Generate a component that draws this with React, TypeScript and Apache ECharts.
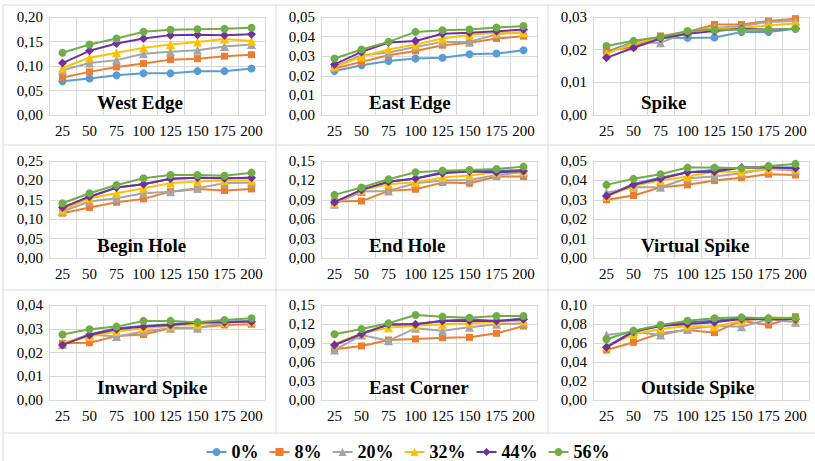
import React, { useEffect, useRef } from "react";
import * as echarts from "echarts";

const categories = ["25", "50", "75", "100", "125", "150", "175", "200"];
const seriesNames = ["0%", "8%", "20%", "32%", "44%", "56%"];
const panelTitles = [
  "West Edge", "East Edge", "Spike",
  "Begin Hole", "End Hole", "Virtual Spike",
  "Inward Spike", "East Corner", "Outside Spike",
];
const yMax = [0.2, 0.05, 0.03, 0.25, 0.15, 0.05, 0.04, 0.15, 0.1];
const yInterval = [0.05, 0.01, 0.01, 0.05, 0.03, 0.01, 0.01, 0.03, 0.02];

// each panel: [0%, 8%, 20%, 32%, 44%, 56%]
const westEdge = [
  [0.069, 0.0746, 0.081, 0.085, 0.085, 0.0895, 0.0895, 0.095],
  [0.0766, 0.088, 0.098, 0.105, 0.113, 0.115, 0.12, 0.123],
  [0.0915, 0.106, 0.112, 0.125, 0.129, 0.132, 0.14, 0.144],
  [0.096, 0.117, 0.127, 0.137, 0.144, 0.149, 0.155, 0.151],
  [0.106, 0.131, 0.146, 0.156, 0.163, 0.164, 0.163, 0.165],
  [0.127, 0.144, 0.156, 0.17, 0.174, 0.175, 0.176, 0.178],
];
const eastEdge = [
  [0.0224, 0.0254, 0.0275, 0.0288, 0.0292, 0.031, 0.0314, 0.033],
  [0.0237, 0.0271, 0.0305, 0.0327, 0.0356, 0.0368, 0.039, 0.0402],
  [0.0246, 0.0305, 0.0319, 0.0347, 0.0373, 0.0373, 0.0412, 0.0424],
  [0.0246, 0.0297, 0.0334, 0.0359, 0.039, 0.041, 0.0419, 0.042],
  [0.0258, 0.0322, 0.037, 0.0378, 0.0415, 0.042, 0.0427, 0.0436],
  [0.0288, 0.0334, 0.0373, 0.0424, 0.0432, 0.0436, 0.0446, 0.0454],
];
const spike = [
  [0.0193, 0.0224, 0.0237, 0.0236, 0.0237, 0.0254, 0.0254, 0.0264],
  [0.0196, 0.0208, 0.0242, 0.0254, 0.0277, 0.0277, 0.0288, 0.0295],
  [0.0188, 0.0221, 0.0221, 0.0254, 0.0267, 0.0272, 0.0285, 0.0288],
  [0.0188, 0.0219, 0.0239, 0.0254, 0.0264, 0.0266, 0.0275, 0.028],
  [0.0175, 0.0206, 0.0234, 0.0249, 0.0257, 0.0264, 0.0261, 0.0264],
  [0.0211, 0.0227, 0.0239, 0.0257, 0.0261, 0.0261, 0.0261, 0.0264],
];
const beginHole = [
  [0.13, 0.158, 0.1815, 0.19, 0.204, 0.207, 0.2055, 0.207],
  [0.1156, 0.13, 0.1438, 0.1524, 0.171, 0.178, 0.174, 0.178],
  [0.12, 0.1455, 0.154, 0.167, 0.171, 0.18, 0.193, 0.194],
  [0.124, 0.154, 0.167, 0.18, 0.193, 0.197, 0.1995, 0.1995],
  [0.13, 0.158, 0.1815, 0.19, 0.204, 0.207, 0.2055, 0.207],
  [0.141, 0.167, 0.188, 0.2055, 0.214, 0.214, 0.212, 0.22],
];
const endHole = [
  [0.0863, 0.1053, 0.118, 0.123, 0.1325, 0.1346, 0.1346, 0.136],
  [0.0873, 0.088, 0.1038, 0.1063, 0.1166, 0.1156, 0.1259, 0.1259],
  [0.0832, 0.1027, 0.1038, 0.1156, 0.1197, 0.1207, 0.1284, 0.1325],
  [0.0848, 0.1053, 0.114, 0.117, 0.1243, 0.1274, 0.1325, 0.1336],
  [0.0863, 0.1053, 0.118, 0.123, 0.131, 0.1336, 0.1325, 0.1346],
  [0.0976, 0.1089, 0.1217, 0.1325, 0.1351, 0.136, 0.1377, 0.1413],
];
const virtualSpike = [
  [0.032, 0.0382, 0.0414, 0.0442, 0.0454, 0.0467, 0.0467, 0.0467],
  [0.03, 0.0322, 0.0365, 0.0377, 0.0399, 0.0414, 0.0432, 0.0428],
  [0.0337, 0.0365, 0.0365, 0.0411, 0.042, 0.0437, 0.0459, 0.045],
  [0.0317, 0.0372, 0.0399, 0.042, 0.0445, 0.0445, 0.0459, 0.0459],
  [0.032, 0.0377, 0.0408, 0.0442, 0.0445, 0.0466, 0.0466, 0.0462],
  [0.0377, 0.0408, 0.0432, 0.0466, 0.0466, 0.0462, 0.0474, 0.0485],
];
const inwardSpike = [
  [0.0234, 0.0276, 0.0302, 0.0312, 0.0319, 0.0327, 0.033, 0.0333],
  [0.0239, 0.0241, 0.0269, 0.0276, 0.0302, 0.0305, 0.0316, 0.0319],
  [0.0234, 0.0276, 0.0267, 0.0288, 0.0302, 0.0302, 0.0326, 0.033],
  [0.0241, 0.0267, 0.0288, 0.0302, 0.0312, 0.0319, 0.0326, 0.033],
  [0.0232, 0.0274, 0.0298, 0.0309, 0.0316, 0.0326, 0.0327, 0.033],
  [0.0276, 0.0298, 0.0309, 0.0333, 0.0333, 0.0327, 0.0337, 0.0344],
];
const eastCorner = [
  [0.0868, 0.1053, 0.1184, 0.1195, 0.1253, 0.1274, 0.1247, 0.1289],
  [0.08, 0.0853, 0.0947, 0.0963, 0.0984, 0.0989, 0.1053, 0.1168],
  [0.0789, 0.1026, 0.0937, 0.1132, 0.1095, 0.1147, 0.1195, 0.1211],
  [0.0884, 0.1053, 0.1142, 0.1174, 0.1195, 0.1211, 0.1237, 0.1253],
  [0.0868, 0.1042, 0.1195, 0.1195, 0.1247, 0.1253, 0.1247, 0.1274],
  [0.1037, 0.1121, 0.1211, 0.1342, 0.1316, 0.13, 0.1326, 0.1326],
];
const outsideSpike = [
  [0.0561, 0.0726, 0.0782, 0.0818, 0.0835, 0.086, 0.086, 0.086],
  [0.0526, 0.0607, 0.0702, 0.0737, 0.0709, 0.0835, 0.0789, 0.0877],
  [0.0684, 0.0719, 0.0684, 0.0744, 0.0779, 0.0772, 0.0849, 0.0818],
  [0.0561, 0.0691, 0.0747, 0.0779, 0.0772, 0.0835, 0.087, 0.086],
  [0.0554, 0.0719, 0.0779, 0.08, 0.0818, 0.0853, 0.0849, 0.0849],
  [0.0639, 0.073, 0.0789, 0.0835, 0.086, 0.087, 0.086, 0.0867],
];
const panels = [westEdge, eastEdge, spike, beginHole, endHole, virtualSpike, inwardSpike, eastCorner, outsideSpike];

const colors = ["#5B9BD5", "#ED7D31", "#A5A5A5", "#FFC000", "#7030A0", "#70AD47"];
const symbols = ["circle", "rect", "triangle", "triangle", "diamond", "circle"];
const symbolSizes = [8, 7, 9, 9, 9, 8];

const colLeft = [49, 321, 593];
const colWidth = [216, 216, 216];
const rowTop = [17, 161, 305];
const rowHeight = [98, 97, 95];
const SERIF = "Liberation Serif";

export default function App() {
  const ref = useRef<HTMLDivElement>(null);
  useEffect(() => {
    if (!ref.current) return;
    const chart = echarts.init(ref.current, undefined, { renderer: "svg" });
    const grids: any[] = [];
    const xAxes: any[] = [];
    const yAxes: any[] = [];
    const series: any[] = [];
    const graphics: any[] = [];
    panels.forEach((panel, i) => {
      const r = Math.floor(i / 3);
      const c = i % 3;
      grids.push({ left: colLeft[c], top: rowTop[r], width: colWidth[c], height: rowHeight[r], containLabel: false });
      xAxes.push({
        type: "category", gridIndex: i, data: categories, boundaryGap: true,
        axisLine: { lineStyle: { color: "#D9D9D9", width: 1 } },
        axisTick: { show: false },
        splitLine: { show: true, lineStyle: { color: "#D9D9D9", width: 1 } },
        axisLabel: { color: "#000", fontFamily: SERIF, fontSize: 15, margin: 8, interval: 0 },
      });
      yAxes.push({
        type: "value", gridIndex: i, min: 0, max: yMax[i], interval: yInterval[i],
        axisLine: { show: false }, axisTick: { show: false },
        splitLine: { lineStyle: { color: "#D9D9D9", width: 1 } },
        axisLabel: {
          color: "#000", fontFamily: SERIF, fontSize: 15, margin: 6,
          formatter: (v: number) => v.toFixed(2).replace(".", ","),
        },
      });
      panel.forEach((vals, k) => {
        const darkBlue = k === 0 && i >= 3;
        series.push({
          type: "line", name: seriesNames[k], xAxisIndex: i, yAxisIndex: i, data: vals,
          symbol: darkBlue ? "none" : symbols[k],
          symbolSize: symbolSizes[k],
          color: darkBlue ? "#4472C4" : colors[k],
          lineStyle: { width: 2, color: darkBlue ? "#4472C4" : colors[k] },
          itemStyle: { color: colors[k] },
          z: 2 + k,
        });
      });
      graphics.push({
        type: "text",
        left: colLeft[c] + colWidth[c] / 2 - 60,
        top: rowTop[r] + rowHeight[r] - 22,
        z: 100,
        style: { text: panelTitles[i], fontFamily: SERIF, fontWeight: "bold", fontSize: 19, fill: "#000", textAlign: "center", x: 60 },
      });
    });
    const lc = "#D9D9D9";
    const hLines = [5, 145, 290, 433];
    hLines.forEach((y) => graphics.push({ type: "line", shape: { x1: 3, y1: y, x2: 815, y2: y }, style: { stroke: lc, lineWidth: 1 }, z: -10 }));
    [3, 276, 548].forEach((x) => graphics.push({ type: "line", shape: { x1: x, y1: 5, x2: x, y2: 433 }, style: { stroke: lc, lineWidth: 1 }, z: -10 }));
    graphics.push({ type: "line", shape: { x1: 3, y1: 433, x2: 3, y2: 461 }, style: { stroke: lc, lineWidth: 1 }, z: -10 });

    chart.setOption({
      animation: false,
      backgroundColor: "#fff",
      textStyle: { fontFamily: SERIF },
      grid: grids,
      xAxis: xAxes,
      yAxis: yAxes,
      series,
      graphic: graphics,
      legend: {
        data: seriesNames,
        top: 438,
        left: "center",
        itemWidth: 20,
        itemHeight: 10,
        itemGap: 10,
        textStyle: { fontFamily: SERIF, fontWeight: "bold", fontSize: 18, color: "#000" },
      },
    });
    return () => chart.dispose();
  }, []);
  return <div ref={ref} style={{ position: "absolute", left: 0, top: 0, width: 815, height: 461 }} />;
}
